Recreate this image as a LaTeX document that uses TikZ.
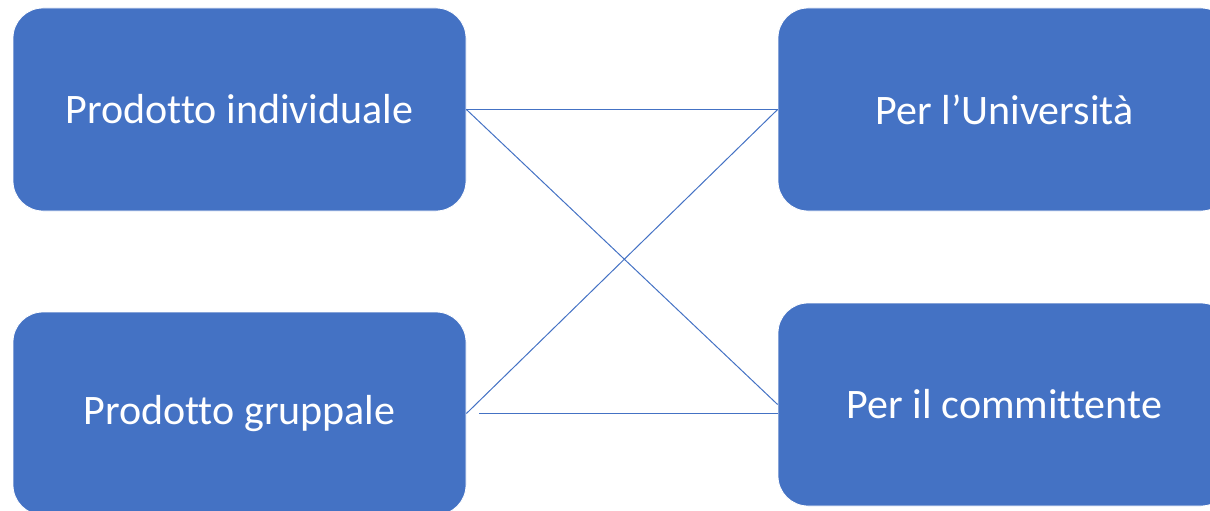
\documentclass[tikz,border=0pt]{standalone}
\usepackage{fontspec}
\setmainfont{Carlito}[Ligatures=NoCommon]
\definecolor{boxblue}{HTML}{4472C4}
\begin{document}
\begin{tikzpicture}[x=1pt,y=-1pt,
  blk/.style={rectangle, rounded corners=30pt, fill=boxblue, draw=white, line width=0.8pt,
    minimum width=453pt, minimum height=203pt, inner sep=0pt, text=white,
    font=\fontsize{42}{48}\selectfont},
  conn/.style={draw=boxblue, line width=1pt}]
\useasboundingbox (0,0) rectangle (1210,511);
\clip (0,0) rectangle (1210,511);
\node[blk] (pi) at (239.5,109.5) {Prodotto individuale};
\node[blk] (pg) at (239.5,413.5) {Prodotto gruppale};
\node[blk] (pu) at (1004.5,109.5) {Per l’Università};
\node[blk] (pc) at (1004.5,404.5) {Per il committente};
\draw[conn] (pi.east) -- (pu.west);
\draw[conn] (pi.east) -- (pc.west);
\draw[conn] (pg.east) -- (pu.west);
\draw[conn] ([xshift=13pt]pg.east) -- (pg.east -| pc.west);
\end{tikzpicture}
\end{document}
